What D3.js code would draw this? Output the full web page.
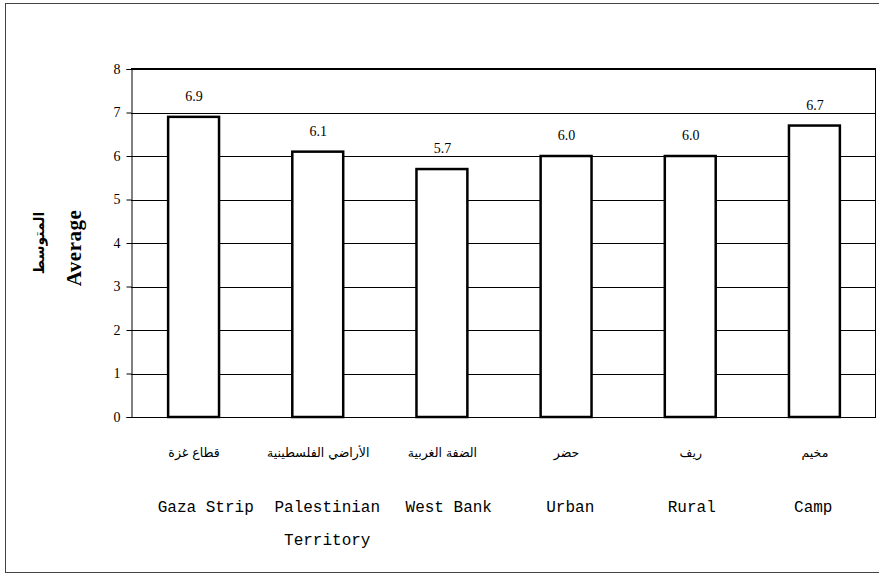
<!DOCTYPE html>
<html><head><meta charset="utf-8">
<script src="https://cdn.jsdelivr.net/npm/d3@7"></script>
<style>body{margin:0;background:#fff}svg{display:block}</style>
</head><body>
<script>
const categoriesEn = ["Gaza Strip", "Palestinian\nTerritory", "West Bank", "Urban", "Rural", "Camp"];
const categoriesAr = ["قطاع غزة", "الأراضي  الفلسطينية", "الضفة الغربية", "حضر", "ريف", "مخيم"];
const values = [6.9, 6.1, 5.7, 6.0, 6.0, 6.7];
const yTicks = [0, 1, 2, 3, 4, 5, 6, 7, 8];

const SERIF = '"Liberation Serif", "Times New Roman", serif';
const MONO = '"Liberation Mono", "Courier New", monospace';
const ARAB = '"DejaVu Sans", "Noto Sans", sans-serif';

const W = 879, H = 574;
const m = {left: 131, right: 3, top: 69, bottom: 157};
const svg = d3.select("body").append("svg").attr("width", W).attr("height", H);

svg.append("rect").attr("x", 5.5).attr("y", 3.5).attr("width", 880).attr("height", 569)
  .attr("fill", "#fff").attr("stroke", "#444").attr("stroke-width", 1);

const x = d3.scaleBand().domain(d3.range(values.length)).range([m.left, W - m.right]).padding(0);
const xEn = d3.scaleBand().domain(d3.range(values.length)).range([145, 874]).padding(0);
const y = d3.scaleLinear().domain([0, 8]).range([H - m.bottom, m.top]);

const g = svg.append("g");
g.selectAll("line.grid").data(yTicks.filter(d => d > 0 && d < 8)).join("line")
  .attr("x1", m.left).attr("x2", W - m.right)
  .attr("y1", d => Math.round(y(d)) + 0.5).attr("y2", d => Math.round(y(d)) + 0.5)
  .attr("stroke", "#000").attr("stroke-width", 1);
g.append("line").attr("x1", m.left).attr("x2", W - m.right)
  .attr("y1", y(8)).attr("y2", y(8)).attr("stroke", "#000").attr("stroke-width", 2);
g.append("line").attr("x1", W - m.right - 0.5).attr("x2", W - m.right - 0.5)
  .attr("y1", y(8)).attr("y2", y(0)).attr("stroke", "#000").attr("stroke-width", 1);

const yAxis = d3.axisLeft(y).tickValues(yTicks).tickSize(5).tickPadding(6).tickFormat(d3.format("d"));
const ya = svg.append("g").attr("transform", `translate(${m.left + 0.5},0)`).call(yAxis);
ya.select(".domain").attr("stroke", "#000");
ya.selectAll("text").style("font-family", SERIF).style("font-size", "14px").attr("fill", "#000");
ya.selectAll("line").attr("stroke", "#000");

svg.append("line").attr("x1", m.left).attr("x2", W - m.right)
  .attr("y1", Math.round(y(0)) + 0.5).attr("y2", Math.round(y(0)) + 0.5).attr("stroke", "#000");

const bw = x.bandwidth() * 0.41;
svg.selectAll("rect.bar").data(values).join("rect").attr("class", "bar")
  .attr("x", (d, i) => x(i) + x.bandwidth() / 2 - bw / 2 + 0.5)
  .attr("y", d => y(d))
  .attr("width", bw).attr("height", d => y(0) - y(d))
  .attr("fill", "#fff").attr("stroke", "#000").attr("stroke-width", 2.5);

svg.selectAll("text.val").data(values).join("text").attr("class", "val")
  .attr("x", (d, i) => x(i) + x.bandwidth() / 2 + 1)
  .attr("y", d => y(d) - 16)
  .attr("text-anchor", "middle")
  .style("font-family", SERIF).style("font-size", "14px")
  .text(d => d.toFixed(1));

svg.selectAll("text.ar").data(categoriesAr).join("text").attr("class", "ar")
  .attr("x", (d, i) => x(i) + x.bandwidth() / 2 + 1)
  .attr("y", 457)
  .attr("text-anchor", "middle").attr("direction", "rtl")
  .style("font-family", ARAB).style("font-size", "12.5px")
  .text(d => d);

const en = svg.selectAll("text.en").data(categoriesEn).join("text").attr("class", "en")
  .attr("text-anchor", "middle")
  .style("font-family", MONO).style("font-size", "16px");
en.each(function(d, i) {
  const lines = d.split("\n");
  d3.select(this).selectAll("tspan").data(lines).join("tspan")
    .attr("x", xEn(i) + xEn.bandwidth() / 2)
    .attr("y", (l, j) => 512 + j * 33)
    .text(l => l);
});

svg.append("text").attr("transform", "translate(81,248) rotate(-90)")
  .attr("text-anchor", "middle").style("font-family", SERIF)
  .style("font-weight", "bold").style("font-size", "21px").style("letter-spacing", "0.5px").text("Average");
svg.append("text").attr("transform", "translate(44,243) rotate(-90)")
  .attr("text-anchor", "middle").attr("direction", "rtl").style("font-family", ARAB)
  .style("font-weight", "bold").style("font-size", "14px").text("المتوسط");
</script>
</body></html>
